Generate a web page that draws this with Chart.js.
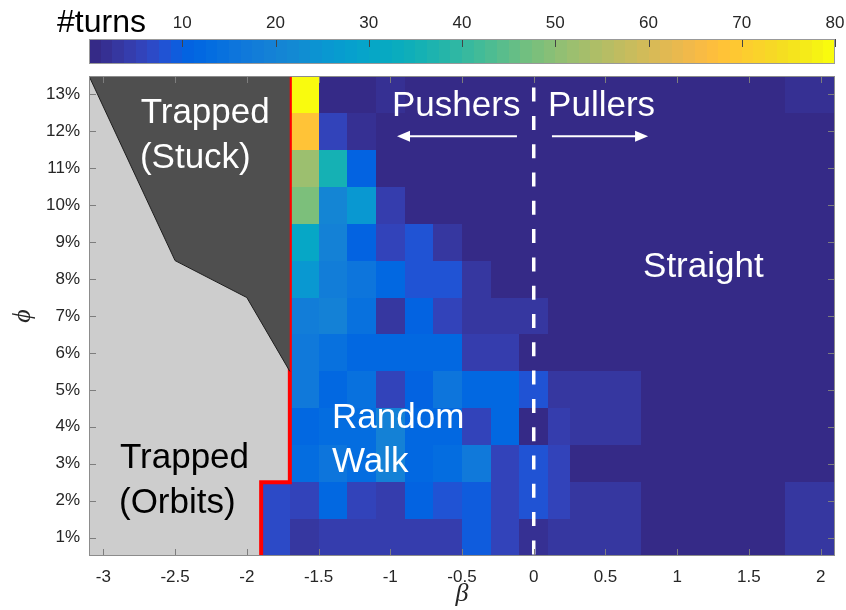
<!DOCTYPE html>
<html>
<head>
<meta charset="utf-8">
<script src="https://cdn.jsdelivr.net/npm/chart.js@4.4.1/dist/chart.umd.min.js"></script>
<style>
  html, body { margin: 0; padding: 0; background: #fff; }
  #wrap { position: relative; width: 846px; height: 610px; }
  #wrap canvas { position: absolute; left: 0; top: 0; }
</style>
</head>
<body>
<div id="wrap">
  <canvas id="main" width="846" height="610"></canvas>
  <canvas id="cbar" width="846" height="72"></canvas>
</div>
<script>
// ── Data ──────────────────────────────────────────────────────────────────────
// column edges in beta; the first column only exists for the two lowest rows
const betaEdges = [-1.9, -1.7, -1.5, -1.3, -1.1, -0.9, -0.7, -0.5, -0.3, -0.1, 0.1, 0.25, 0.75, 1.75, 2.1];
// row centres in phi (%), top to bottom
const phiRows = [13, 12, 11, 10, 9, 8, 7, 6, 5, 4, 3, 2, 1];
// mean number of turns per cell (null = swimmer trapped, no run)
const turns = [
  [null, 79.5,  0.5,  0.5,  2.0,  0.5,  0.5,  0.5,  0.5, 0.5, 0.5, 0.5, 0.5, 2.0],
  [null, 68.0,  6.0,  1.5,  0.5,  0.5,  0.5,  0.5,  0.5, 0.5, 0.5, 0.5, 0.5, 0.5],
  [null, 52.0, 36.0, 10.0,  0.5,  0.5,  0.5,  0.5,  0.5, 0.5, 0.5, 0.5, 0.5, 0.5],
  [null, 48.5, 20.5, 26.0,  4.5,  0.5,  0.5,  0.5,  0.5, 0.5, 0.5, 0.5, 0.5, 0.5],
  [null, 30.0, 19.5, 10.5,  5.5,  8.5,  3.5,  0.5,  0.5, 0.5, 0.5, 0.5, 0.5, 0.5],
  [null, 25.5, 18.0, 15.5, 12.0,  8.0,  8.0,  3.0,  0.5, 0.5, 0.5, 0.5, 0.5, 0.5],
  [null, 18.0, 19.5, 14.0,  3.5, 11.0,  6.0,  3.5,  3.5, 3.5, 0.5, 0.5, 0.5, 0.5],
  [null, 17.0, 14.0, 12.0, 12.0, 12.0, 12.0,  4.5,  4.5, 0.5, 0.5, 0.5, 0.5, 0.5],
  [null, 16.5, 12.0, 14.5,  6.0, 10.5, 16.0, 12.0, 12.0, 8.0, 3.0, 3.0, 0.5, 0.5],
  [null, 12.0, 13.5, 13.0, 19.5, 12.0, 12.0,  5.0, 12.0, 0.5, 4.5, 3.0, 0.5, 0.5],
  [null, 13.0, 15.0, 13.5, 19.0, 12.0, 13.5, 16.5,  5.0, 8.0, 5.5, 0.5, 0.5, 0.5],
  [ 7.0,  5.0, 12.0,  5.0,  4.5, 10.0,  7.5,  9.5,  5.0, 8.0, 5.0, 2.5, 0.5, 2.5],
  [ 7.0,  3.0,  4.5,  4.5,  4.5,  4.5,  4.5,  9.5,  5.0, 1.5, 3.0, 3.0, 0.5, 3.0]
];
const turnsRange = [0, 80];
const cbarTicks = [10, 20, 30, 40, 50, 60, 70, 80];
const xTicks = [-3, -2.5, -2, -1.5, -1, -0.5, 0, 0.5, 1, 1.5, 2];
const yTicks = [1, 2, 3, 4, 5, 6, 7, 8, 9, 10, 11, 12, 13];

// boundary of the "stuck" region (filled up to the top of the axes)
const stuckEdge = [{ x: -3.1, y: 13.5 }, { x: -2.5, y: 8.5 }, { x: -2, y: 7.5 }, { x: -1.7, y: 5.5 }];
// trapped / free boundary
const trapBoundary = [{ x: -1.7, y: 13.5 }, { x: -1.7, y: 2.5 }, { x: -1.9, y: 2.5 }, { x: -1.9, y: 0.5 }];
// pushers | pullers divider at beta = 0
const dividerLine = [{ x: 0, y: 13.5 }, { x: 0, y: 0.5 }];

const regionLabels = [
  { text: 'Trapped',  beta: -2.74,  phi: 12.23, color: '#ffffff' },
  { text: '(Stuck)',  beta: -2.745, phi: 11.01, color: '#ffffff' },
  { text: 'Pushers',  beta: -0.988, phi: 12.42, color: '#ffffff' },
  { text: 'Pullers',  beta: 0.1,    phi: 12.42, color: '#ffffff' },
  { text: 'Straight', beta: 0.762,  phi: 8.06,  color: '#ffffff' },
  { text: 'Random',   beta: -1.406, phi: 3.97,  color: '#ffffff' },
  { text: 'Walk',     beta: -1.406, phi: 2.77,  color: '#ffffff' },
  { text: 'Trapped',  beta: -2.884, phi: 2.88,  color: '#000000' },
  { text: '(Orbits)', beta: -2.891, phi: 1.66,  color: '#000000' }
];
const arrows = [
  { from: [-0.117, 11.87], to: [-0.953, 11.87] },
  { from: [0.127, 11.87],  to: [0.797, 11.87] }
];

// ── Colormap (parula, 64 levels) ─────────────────────────────────────────────
const PARULA = [
  [0.2081,0.1663,0.5292],[0.2116,0.1898,0.5777],[0.2123,0.2138,0.6270],[0.2081,0.2386,0.6771],
  [0.1959,0.2645,0.7279],[0.1707,0.2919,0.7792],[0.1253,0.3242,0.8303],[0.0591,0.3598,0.8683],
  [0.0117,0.3875,0.8820],[0.0060,0.4086,0.8828],[0.0165,0.4266,0.8786],[0.0329,0.4430,0.8720],
  [0.0498,0.4586,0.8641],[0.0629,0.4737,0.8554],[0.0723,0.4887,0.8467],[0.0779,0.5040,0.8384],
  [0.0793,0.5200,0.8312],[0.0749,0.5375,0.8263],[0.0641,0.5570,0.8240],[0.0488,0.5772,0.8228],
  [0.0343,0.5966,0.8199],[0.0265,0.6137,0.8135],[0.0239,0.6287,0.8038],[0.0231,0.6418,0.7913],
  [0.0228,0.6535,0.7768],[0.0267,0.6642,0.7607],[0.0384,0.6743,0.7436],[0.0590,0.6838,0.7254],
  [0.0843,0.6928,0.7062],[0.1133,0.7015,0.6859],[0.1453,0.7098,0.6646],[0.1801,0.7177,0.6424],
  [0.2178,0.7250,0.6193],[0.2586,0.7317,0.5954],[0.3022,0.7376,0.5712],[0.3482,0.7424,0.5473],
  [0.3953,0.7459,0.5244],[0.4420,0.7481,0.5033],[0.4871,0.7491,0.4840],[0.5300,0.7491,0.4661],
  [0.5709,0.7485,0.4494],[0.6099,0.7473,0.4337],[0.6473,0.7456,0.4188],[0.6834,0.7435,0.4044],
  [0.7184,0.7411,0.3905],[0.7525,0.7384,0.3768],[0.7858,0.7356,0.3633],[0.8185,0.7327,0.3498],
  [0.8507,0.7299,0.3360],[0.8824,0.7274,0.3217],[0.9139,0.7258,0.3063],[0.9450,0.7261,0.2886],
  [0.9739,0.7314,0.2666],[0.9938,0.7455,0.2403],[0.9990,0.7653,0.2164],[0.9955,0.7861,0.1967],
  [0.9880,0.8066,0.1794],[0.9789,0.8271,0.1633],[0.9697,0.8481,0.1475],[0.9626,0.8705,0.1309],
  [0.9589,0.8949,0.1132],[0.9598,0.9218,0.0948],[0.9661,0.9514,0.0755],[0.9763,0.9831,0.0538]
];
const rgb = c => `rgb(${Math.round(c[0] * 255)},${Math.round(c[1] * 255)},${Math.round(c[2] * 255)})`;
const turnsColor = v => {
  const t = (v - turnsRange[0]) / (turnsRange[1] - turnsRange[0]);
  const i = Math.min(PARULA.length - 1, Math.max(0, Math.floor(t * PARULA.length)));
  return rgb(PARULA[i]);
};

const SANS = '"Liberation Sans", Arial, Helvetica, sans-serif';
const SERIF = '"Liberation Serif", "DejaVu Serif", serif';
const AXIS_GREY = '#262626';
const NO_GRID = { display: false, drawTicks: false, tickLength: 0 };

// ── Heatmap cells + trapped background ───────────────────────────────────────
const heatmapPlugin = {
  id: 'heatmap',
  beforeDatasetsDraw(chart) {
    const { ctx, chartArea: a, scales: { x, y } } = chart;
    ctx.save();
    ctx.fillStyle = '#cdcdcd';
    ctx.fillRect(a.left, a.top, a.width, a.height);
    turns.forEach((row, r) => {
      const y0 = Math.round(y.getPixelForValue(phiRows[r] + 0.5));
      const y1 = Math.round(y.getPixelForValue(phiRows[r] - 0.5));
      row.forEach((v, c) => {
        if (v == null) return;
        const x0 = Math.round(x.getPixelForValue(betaEdges[c]));
        const x1 = Math.round(x.getPixelForValue(betaEdges[c + 1]));
        ctx.fillStyle = turnsColor(v);
        ctx.fillRect(x0, y0, x1 - x0, y1 - y0);
      });
    });
    ctx.restore();
  }
};

// ── Ticks inside the box, arrows and region labels ───────────────────────────
const overlayPlugin = {
  id: 'overlay',
  afterDatasetsDraw(chart) {
    const { ctx, chartArea: a, scales: { x, y } } = chart;
    ctx.save();
    ctx.lineWidth = 1;
    ctx.strokeStyle = '#7d7d7d';
    ctx.beginPath();
    xTicks.forEach(v => {
      const px = Math.round(x.getPixelForValue(v)) + 0.5;
      ctx.moveTo(px, a.bottom); ctx.lineTo(px, a.bottom - 7);
      ctx.moveTo(px, a.top);    ctx.lineTo(px, a.top + 7);
    });
    yTicks.forEach(v => {
      const py = Math.round(y.getPixelForValue(v)) + 0.5;
      ctx.moveTo(a.left, py);  ctx.lineTo(a.left + 7, py);
      ctx.moveTo(a.right, py); ctx.lineTo(a.right - 7, py);
    });
    ctx.stroke();
    ctx.strokeStyle = '#8c8c8c';
    ctx.strokeRect(a.left + 0.5, a.top + 0.5, a.width - 1, a.height - 1);

    ctx.strokeStyle = '#ffffff';
    ctx.fillStyle = '#ffffff';
    ctx.lineWidth = 2;
    arrows.forEach(ar => {
      const x0 = x.getPixelForValue(ar.from[0]), y0 = y.getPixelForValue(ar.from[1]);
      const x1 = x.getPixelForValue(ar.to[0]),   y1 = y.getPixelForValue(ar.to[1]);
      const dir = Math.sign(x1 - x0);
      ctx.beginPath(); ctx.moveTo(x0, y0); ctx.lineTo(x1 - dir * 10, y1); ctx.stroke();
      ctx.beginPath();
      ctx.moveTo(x1, y1);
      ctx.lineTo(x1 - dir * 13, y1 - 5.5);
      ctx.lineTo(x1 - dir * 13, y1 + 5.5);
      ctx.closePath(); ctx.fill();
    });

    ctx.font = `35px ${SANS}`;
    ctx.textAlign = 'left';
    ctx.textBaseline = 'alphabetic';
    regionLabels.forEach(l => {
      ctx.fillStyle = l.color;
      ctx.fillText(l.text, x.getPixelForValue(l.beta), y.getPixelForValue(l.phi));
    });
    ctx.restore();
  }
};

new Chart(document.getElementById('main'), {
  type: 'scatter',
  data: {
    datasets: [
      { data: stuckEdge, showLine: true, fill: 'end', backgroundColor: '#4f4f4f',
        borderColor: '#1e1e1e', borderWidth: 1, pointRadius: 0 },
      { data: trapBoundary, showLine: true, fill: false, borderColor: '#ff0000', borderWidth: 4,
        borderJoinStyle: 'miter', borderCapStyle: 'butt', pointRadius: 0 },
      { data: dividerLine, showLine: true, fill: false, borderColor: '#ffffff', borderWidth: 3.5,
        borderDash: [14, 14.3], borderDashOffset: 16.7, borderCapStyle: 'butt', pointRadius: 0 }
    ]
  },
  options: {
    responsive: false,
    animation: false,
    events: [],
    layout: { padding: { left: 0, right: 11, top: 76, bottom: 0 } },
    plugins: { legend: { display: false }, tooltip: { enabled: false } },
    scales: {
      x: {
        type: 'linear', min: -3.1, max: 2.1,
        grid: NO_GRID, border: { display: false },
        afterBuildTicks: s => { s.ticks = xTicks.map(v => ({ value: v })); },
        afterFit: s => { s.height = 54; },
        ticks: { color: AXIS_GREY, font: { size: 17, family: SANS }, padding: 11,
                 maxRotation: 0, autoSkip: false, callback: v => String(v) },
        title: { display: true, text: 'β', color: AXIS_GREY,
                 font: { size: 26, family: SERIF, style: 'italic' }, padding: { top: 0, bottom: 0 } }
      },
      y: {
        type: 'linear', min: 0.5, max: 13.5,
        grid: NO_GRID, border: { display: false },
        afterBuildTicks: s => { s.ticks = yTicks.map(v => ({ value: v })); },
        afterFit: s => { s.width = 89; },
        ticks: { color: AXIS_GREY, font: { size: 17, family: SANS }, padding: 9,
                 autoSkip: false, callback: v => v + '%' },
        title: { display: true, text: 'ϕ', color: AXIS_GREY,
                 font: { size: 26, family: SERIF, style: 'italic' }, padding: { top: 8, bottom: 0 } }
      }
    }
  },
  plugins: [heatmapPlugin, overlayPlugin]
});

// ── Colour bar ───────────────────────────────────────────────────────────────
const colorbarPlugin = {
  id: 'colorbar',
  afterDraw(chart) {
    const { ctx, chartArea: a, scales: { x } } = chart;
    const n = PARULA.length, span = turnsRange[1] - turnsRange[0];
    ctx.save();
    PARULA.forEach((c, i) => {
      const x0 = Math.round(x.getPixelForValue(turnsRange[0] + span * i / n));
      const x1 = Math.round(x.getPixelForValue(turnsRange[0] + span * (i + 1) / n));
      ctx.fillStyle = rgb(c);
      ctx.fillRect(x0, a.top, x1 - x0, a.height);
    });
    ctx.strokeStyle = '#444';
    ctx.lineWidth = 1;
    ctx.beginPath();
    cbarTicks.forEach(v => {
      const px = Math.round(x.getPixelForValue(v)) + 0.5;
      ctx.moveTo(px, a.top); ctx.lineTo(px, a.top + 8);
    });
    ctx.stroke();
    ctx.strokeStyle = '#999';
    ctx.strokeRect(a.left + 0.5, a.top + 0.5, a.width - 1, a.height - 1);

    ctx.fillStyle = '#000';
    ctx.font = `32px ${SANS}`;
    ctx.textAlign = 'left';
    ctx.textBaseline = 'alphabetic';
    ctx.fillText('#turns', 57, 32);
    ctx.restore();
  }
};

new Chart(document.getElementById('cbar'), {
  type: 'scatter',
  data: { datasets: [] },
  options: {
    responsive: false,
    animation: false,
    events: [],
    layout: { padding: { left: 89, right: 11, top: 0, bottom: 8 } },
    plugins: { legend: { display: false }, tooltip: { enabled: false } },
    scales: {
      x: {
        type: 'linear', position: 'top', min: turnsRange[0], max: turnsRange[1],
        grid: NO_GRID, border: { display: false },
        afterBuildTicks: s => { s.ticks = cbarTicks.map(v => ({ value: v })); },
        // the bar spans exactly the plot width; the "80" label may overhang
        afterFit: s => { s.height = 39; s.paddingLeft = 0; s.paddingRight = 0; },
        ticks: { color: AXIS_GREY, font: { size: 17, family: SANS }, padding: 5,
                 maxRotation: 0, autoSkip: false }
      },
      y: { display: false, min: 0, max: 1 }
    }
  },
  plugins: [colorbarPlugin]
});
</script>
</body>
</html>
